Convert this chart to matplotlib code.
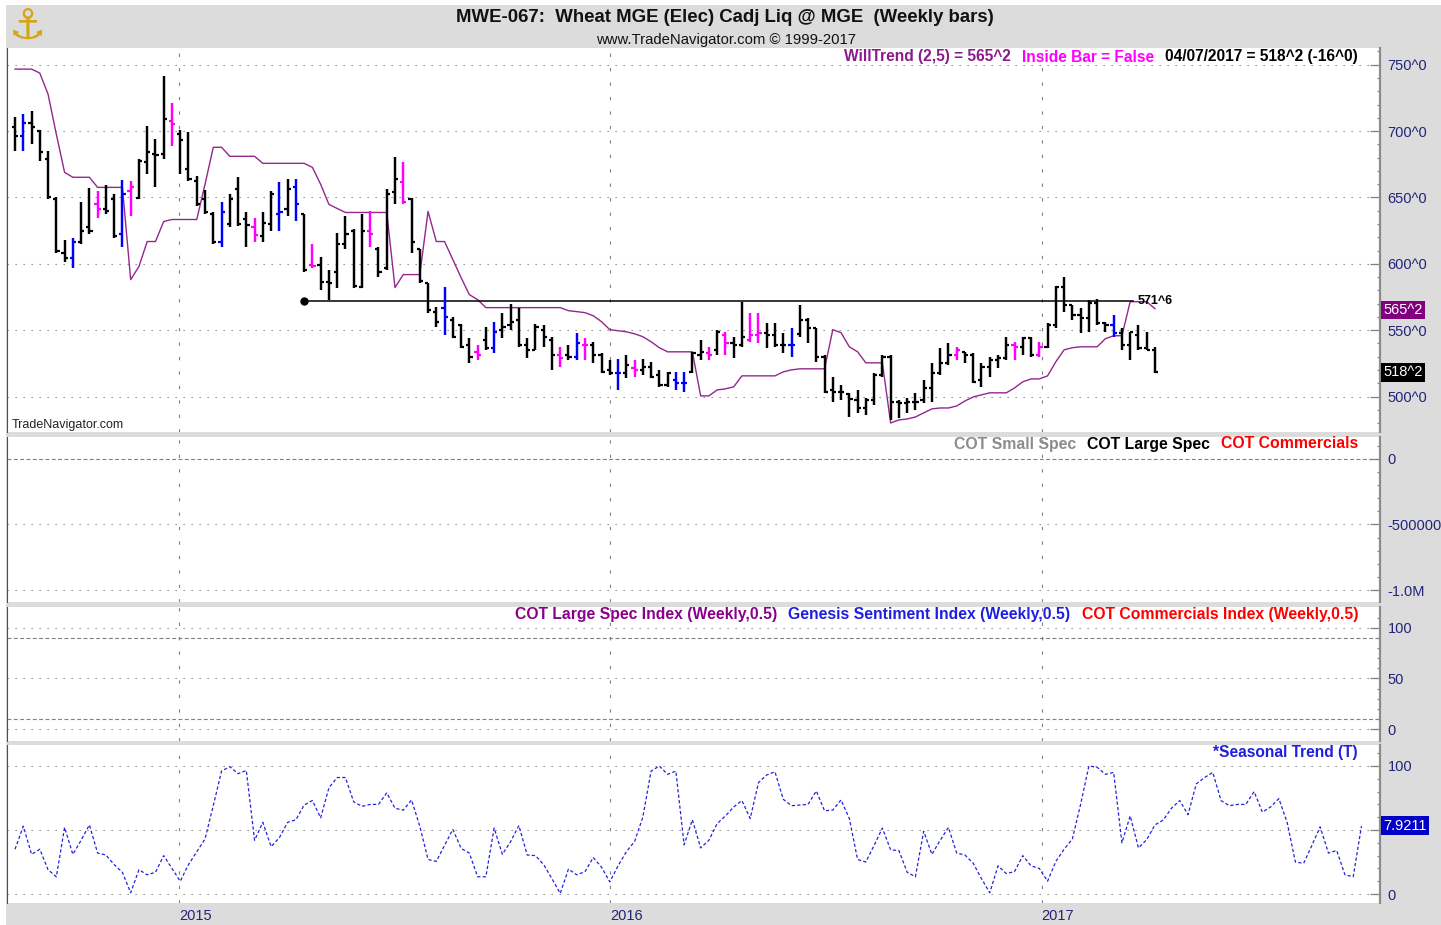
import matplotlib
matplotlib.use("Agg")
import matplotlib.pyplot as plt
import matplotlib.dates as mdates
from matplotlib.patches import Rectangle
import numpy as np
import pandas as pd

# ---- data (weekly bars, last bar 04/07/2017) ----
last_bar = "2017-04-07"

opens = [702.9, 696.1, 705.9, 699.9, 678.8, 648.5, 608.5, 604.7, 616.1, 627.4,
         644.8, 641.0, 648.5, 622.1, 654.6, 649.3, 676.5, 682.5, 682.5, 707.5,
         697.6, 671.2, 662.1, 648.5, 637.2, 616.1, 629.7, 656.1, 633.4, 627.4,
         620.6, 629.7, 637.2, 641.0, 657.6, 637.2, 599.4, 599.4, 586.6, 594.2,
         614.6, 624.4, 582.8, 624.4, 610.8, 597.2, 653.8, 661.4, 648.5, 610.8,
         585.9, 564.0, 567.0, 557.9, 554.1, 539.0, 533.7, 542.8, 536.8, 550.4,
         554.1, 557.9, 539.0, 535.2, 550.4, 542.8, 531.5, 531.5, 530.0, 539.0,
         539.0, 531.5, 520.1, 517.9, 517.9, 521.6, 520.1, 522.4, 516.4, 508.8,
         512.6, 510.3, 518.6, 531.5, 533.0, 535.2, 546.6, 540.5, 539.0, 542.8,
         546.6, 548.1, 546.6, 539.0, 539.0, 547.3, 557.9, 551.9, 530.0, 505.0,
         503.5, 502.0, 497.5, 491.4, 497.5, 516.4, 530.0, 496.0, 495.2, 496.0,
         497.5, 506.5, 517.9, 525.4, 531.5, 533.7, 531.5, 512.6, 522.4, 527.7,
         529.2, 539.0, 537.5, 544.3, 531.5, 537.5, 554.1, 582.8, 569.2, 561.7,
         559.4, 570.7, 555.6, 554.1, 548.1, 539.0, 546.6, 536.8, 535.2]

highs = [710.5, 712.7, 715.0, 700.7, 684.8, 650.1, 617.6, 619.8, 646.3, 656.9,
         654.6, 659.1, 652.3, 662.9, 662.1, 678.8, 703.7, 693.9, 741.4, 721.0,
         700.7, 699.1, 665.9, 655.3, 638.7, 646.3, 652.3, 665.2, 638.7, 634.9,
         638.7, 654.6, 661.4, 663.6, 663.6, 637.2, 614.6, 605.5, 595.7, 623.6,
         635.7, 625.9, 637.2, 639.5, 613.0, 656.1, 680.3, 676.5, 649.3, 610.8,
         585.9, 567.7, 582.8, 560.2, 554.9, 544.3, 539.0, 552.6, 556.4, 563.2,
         570.0, 567.0, 544.3, 554.9, 554.1, 545.1, 537.5, 539.0, 548.1, 544.3,
         541.3, 533.0, 527.7, 528.4, 531.5, 527.7, 528.4, 526.2, 520.1, 518.6,
         518.6, 518.6, 533.7, 542.8, 537.5, 550.4, 548.8, 545.1, 571.5, 563.2,
         563.2, 555.6, 555.6, 548.1, 551.9, 569.2, 559.4, 551.9, 531.5, 514.9,
         508.8, 502.8, 505.0, 499.0, 517.9, 531.5, 531.5, 497.5, 499.0, 502.8,
         512.6, 525.4, 536.8, 540.5, 537.5, 533.7, 533.0, 525.4, 530.0, 531.5,
         545.1, 541.3, 545.1, 545.1, 541.3, 555.6, 583.6, 590.4, 569.2, 567.0,
         573.0, 573.8, 556.4, 561.7, 551.9, 548.8, 554.1, 548.8, 537.5]

lows = [684.8, 684.8, 690.1, 677.2, 648.5, 608.5, 601.7, 597.2, 614.6, 622.1,
        634.9, 637.2, 619.8, 613.0, 635.7, 648.5, 667.4, 657.6, 678.8, 688.6,
        667.4, 662.1, 643.3, 637.2, 614.6, 613.0, 627.4, 628.2, 612.3, 616.8,
        616.8, 624.4, 624.4, 635.7, 631.9, 594.2, 597.2, 580.6, 573.0, 582.1,
        610.8, 582.1, 582.1, 612.3, 590.4, 595.7, 644.8, 644.8, 608.5, 585.9,
        563.2, 552.6, 546.6, 544.3, 536.8, 525.4, 527.7, 535.2, 533.0, 544.3,
        550.4, 537.5, 529.2, 535.2, 537.5, 520.1, 522.4, 527.7, 527.7, 527.7,
        525.4, 517.9, 516.4, 505.0, 514.1, 514.9, 516.4, 514.1, 507.3, 507.3,
        505.0, 503.5, 517.9, 527.7, 527.7, 531.5, 531.5, 529.2, 537.5, 541.3,
        540.5, 536.8, 537.5, 533.0, 530.0, 545.1, 540.5, 526.2, 502.8, 496.0,
        497.5, 484.6, 487.7, 486.2, 493.7, 514.9, 482.4, 483.9, 487.7, 489.9,
        495.2, 496.0, 516.4, 523.9, 527.7, 525.4, 510.3, 507.3, 514.9, 521.6,
        527.7, 527.7, 531.5, 530.0, 530.0, 536.8, 551.9, 564.0, 557.9, 548.1,
        548.8, 554.1, 548.8, 545.1, 535.2, 527.7, 535.2, 535.2, 517.9]

closes = [696.1, 705.9, 702.9, 684.0, 650.1, 609.3, 604.7, 616.1, 624.4, 625.1,
          641.0, 639.5, 620.6, 652.3, 657.6, 677.2, 684.0, 681.8, 709.0, 705.2,
          693.1, 663.6, 644.8, 638.7, 616.8, 638.7, 648.5, 629.7, 628.9, 621.4,
          630.4, 652.3, 638.7, 656.1, 644.8, 595.7, 598.7, 586.6, 585.9, 614.6,
          622.1, 583.6, 624.4, 622.1, 594.2, 652.3, 663.6, 646.3, 616.1, 587.4,
          565.5, 556.4, 560.2, 545.1, 537.5, 530.0, 531.5, 536.8, 548.8, 552.6,
          556.4, 539.0, 535.2, 552.6, 545.1, 531.5, 529.2, 530.0, 540.5, 539.0,
          531.5, 518.6, 517.9, 517.9, 523.9, 520.1, 522.4, 514.9, 508.8, 517.9,
          510.3, 510.3, 533.0, 533.7, 531.5, 548.8, 540.5, 539.0, 545.1, 546.6,
          548.1, 546.6, 539.0, 539.0, 539.0, 557.9, 551.9, 530.0, 503.5, 503.5,
          503.5, 498.2, 491.4, 497.5, 516.4, 530.0, 496.0, 495.2, 496.0, 496.0,
          506.5, 517.9, 525.4, 531.5, 535.2, 531.5, 511.1, 522.4, 527.7, 529.2,
          539.0, 537.5, 544.3, 531.5, 537.5, 554.1, 582.8, 569.2, 561.7, 559.4,
          570.7, 555.6, 554.1, 548.1, 539.0, 548.8, 536.8, 535.2, 518.6]

willtrend = [746.7, 746.7, 746.7, 743.7, 727.8, 697.6, 668.9, 665.2, 665.2, 665.2,
             657.6, 657.6, 657.6, 657.6, 588.1, 598.0, 616.8, 616.8, 631.9, 633.4,
             633.4, 633.4, 633.4, 659.9, 687.8, 687.8, 681.0, 681.0, 681.0, 681.0,
             675.7, 675.7, 675.7, 675.7, 675.7, 675.7, 672.7, 659.9, 644.8, 641.7,
             638.7, 638.7, 638.7, 638.7, 638.7, 638.7, 582.1, 591.9, 591.9, 591.9,
             639.5, 616.8, 616.8, 603.2, 589.6, 576.8, 573.0, 567.0, 567.0, 567.0,
             567.0, 567.0, 567.0, 567.0, 567.0, 567.0, 567.0, 564.7, 564.0, 563.2,
             560.9, 556.4, 550.4, 549.6, 548.8, 547.3, 545.1, 541.3, 536.8, 533.7,
             533.7, 533.7, 533.7, 500.5, 500.5, 505.0, 505.8, 507.3, 515.6, 515.6,
             515.6, 515.6, 515.6, 518.6, 520.1, 520.9, 520.9, 520.9, 520.9, 550.4,
             548.1, 537.5, 533.7, 525.4, 525.4, 525.4, 480.1, 482.4, 483.1, 484.6,
             487.7, 490.7, 491.4, 491.4, 492.9, 496.7, 499.7, 501.3, 502.8, 502.8,
             502.8, 506.5, 511.1, 513.3, 513.3, 515.6, 526.2, 535.2, 536.8, 537.5,
             537.5, 537.5, 543.6, 545.8, 545.8, 571.5, 571.5, 571.5, 566.2]

blue_bars = [1, 7, 13, 25, 32, 34, 52, 58, 68, 73, 80, 81, 94, 133]
inside_bars = [10, 14, 19, 29, 36, 43, 47, 56, 66, 69, 75, 84, 86, 89, 90, 114, 121, 124]

seasonal = [35, 53, 31, 35, 19, 13.5, 52, 31, 42, 54,
            32, 30.5, 23, 17, 1, 19, 15, 17, 30, 20,
            10, 23, 33, 43, 69, 96, 99.5, 94, 96.5, 42,
            56, 37, 44, 56, 58, 69.5, 73, 59.5, 83, 91,
            91, 72, 68.5, 70, 70, 79, 67, 65.5, 73.5, 53,
            27, 25.5, 38, 50.5, 35.7, 32, 13.5, 13.5, 51.5, 31,
            41, 53.5, 30.5, 30, 23, 12, 0.5, 19.5, 15, 17.5,
            28.5, 21, 9.5, 22, 33, 41, 60, 96, 100, 93.5,
            96, 38.5, 58, 36, 42, 55, 61, 68, 73, 59,
            87, 93, 95.5, 74, 69, 69.5, 70, 80.5, 65, 65.6,
            73.5, 59, 27, 25, 38, 51.5, 34.5, 34, 17, 13.5,
            49, 31, 42, 52, 32, 30.5, 24, 12, 1, 22,
            16, 17.5, 30, 22, 20, 10, 25.5, 35, 43, 70,
            100, 99, 93.5, 95, 40, 61, 36, 42.5, 54, 57.8,
            67, 73, 62, 86, 91, 95, 73, 69, 70, 70,
            80, 64, 68, 74.5, 56, 25, 24, 38, 52.5, 32,
            34, 15, 13.5, 53]

level_price = 571.75
level_label = "571^6"
level_bars = (35, 135)

willtrend_last = 565.25
close_last = 518.25
seasonal_tag = "7.9211"

year_dates = ["2015-01-01", "2016-01-01", "2017-01-01"]
year_labels = ["2015", "2016", "2017"]
price_ticks = [500, 550, 600, 650, 700, 750]
cot_ticks = [0, -500000, -1000000]
cot_labels = ["0", "-500000", "-1.0M"]
index_ticks = [0, 50, 100]
index_bands = [10, 90]
season_ticks = [0, 50, 100]
season_labels = ["0", "", "100"]   # the 50 label sits under the value tag

# ---- figure ----
W, H = 1441, 925
plt.rcParams['font.family'] = ['Liberation Sans', 'DejaVu Sans']
fig = plt.figure(figsize=(W / 100, H / 100), dpi=100, facecolor="white")
fig.patches.append(Rectangle((6 / W, 0), 1 - 6 / W, 1 - 5 / H, transform=fig.transFigure,
                             facecolor="#dcdcdc", edgecolor="none", zorder=-10))

GRID = "#808080"
NAVY = "#23237a"
DOT = (0, (1.2, 6))
VDASH = (0, (3, 10))
HDASH = (0, (3.5, 2.2))

dates = pd.date_range(end=last_bar, periods=len(closes), freq="7D")
sdates = pd.date_range(start=dates[0], periods=len(seasonal), freq="7D")
dn = mdates.date2num(dates)
sdn = mdates.date2num(sdates)
ydn = mdates.date2num(pd.to_datetime(year_dates))
xlim = (dn[0] - 6.8, dn[-1] + 190.7)


def panel(top, bottom):
    ax = fig.add_axes([7 / W, 1 - bottom / H, 1373 / W, (bottom - top) / H])
    ax.set_facecolor("white")
    ax.set_xlim(*xlim)
    for s in ("top", "bottom"):
        ax.spines[s].set_visible(False)
    ax.spines["right"].set_color("#8c8c8c")
    ax.spines["right"].set_linewidth(1.6)
    ax.spines["left"].set_color("#505050")
    ax.spines["left"].set_linewidth(0.8)
    ax.yaxis.tick_right()
    ax.tick_params(axis="y", which="major", direction="in", length=7, width=0.9,
                   color=GRID, labelcolor=NAVY, labelsize=10.5, pad=5.5)
    ax.tick_params(axis="y", which="minor", direction="in", length=2.5, width=0.9, color=GRID)
    ax.tick_params(axis="x", which="both", bottom=False, top=False, labelbottom=False)
    for d in ydn:
        ax.axvline(d, color=GRID, lw=0.8, ls=VDASH, zorder=0.5)
    return ax


# price panel
ax = panel(48, 432)
ax.set_ylim(473.3, 762.6)
ax.set_yticks(price_ticks)
ax.set_yticklabels([f"{v}^0" for v in price_ticks])
ax.set_yticks(np.arange(480, 761, 10), minor=True)
for v in price_ticks:
    ax.axhline(v, color=GRID, lw=0.8, ls=DOT, zorder=0.5)

cols = []
for i in range(len(closes)):
    if i in blue_bars:
        cols.append("#0000ff")
    elif i in inside_bars:
        cols.append("#ff00ff")
    else:
        cols.append("black")
ax.vlines(dn, lows, highs, colors=cols, lw=1.75, zorder=3)
ax.hlines(opens, dn - 2.7, dn, colors=cols, lw=1.6, zorder=3)
ax.hlines(closes, dn, dn + 2.7, colors=cols, lw=1.6, zorder=3)
ax.plot(dn, willtrend, color="#93278f", lw=1.0, zorder=2)

x0, x1 = dn[level_bars[0]], dn[level_bars[1]] + 2
ax.plot([x0, x1], [level_price, level_price], color="black", lw=1.1, zorder=2.5)
ax.plot([x0], [level_price], "o", color="black", ms=5, zorder=2.5)
ax.text(x1 + 4, level_price, level_label, fontsize=9, fontweight="bold", va="center", ha="left")

ax.text(1.0025, willtrend_last, "565^2", transform=ax.get_yaxis_transform(), ha="left",
        va="center", color="white", fontsize=10.5, clip_on=False,
        bbox=dict(boxstyle="square,pad=0.15", fc="#800080", ec="none"))
ax.text(1.0025, close_last, "518^2", transform=ax.get_yaxis_transform(), ha="left",
        va="center", color="white", fontsize=10.5, clip_on=False,
        bbox=dict(boxstyle="square,pad=0.15", fc="black", ec="none"))

# COT panel
ax2 = panel(437, 602)
ax2.set_ylim(-1.091e6, 1.667e5)
ax2.set_yticks(cot_ticks)
ax2.set_yticklabels(cot_labels)
ax2.set_yticks(np.arange(-1000000, 100001, 100000), minor=True)
ax2.axhline(0, color=GRID, lw=0.8, ls=HDASH)
for v in cot_ticks[1:]:
    ax2.axhline(v, color=GRID, lw=0.8, ls=DOT)

# COT index panel
ax3 = panel(607, 741)
ax3.set_ylim(-11.8, 120.6)
ax3.set_yticks(index_ticks)
ax3.set_yticks(np.arange(0, 111, 10), minor=True)
for v in index_ticks:
    ax3.axhline(v, color=GRID, lw=0.8, ls=DOT)
for v in index_bands:
    ax3.axhline(v, color=GRID, lw=0.8, ls=HDASH)

# seasonal panel
ax4 = panel(745, 903)
ax4.set_ylim(-7.0, 116.4)
ax4.set_yticks(season_ticks)
ax4.set_yticklabels(season_labels)
ax4.set_yticks(np.arange(0, 111, 10), minor=True)
for v in season_ticks:
    ax4.axhline(v, color=GRID, lw=0.8, ls=DOT)
ax4.plot(sdn, seasonal, color="#2222dd", lw=0.9, ls=(0, (2.6, 1.8)), zorder=3)
ax4.text(1.0025, seasonal[-1] + 0.5, seasonal_tag, transform=ax4.get_yaxis_transform(),
         ha="left", va="center", color="white", fontsize=10.5, clip_on=False,
         bbox=dict(boxstyle="square,pad=0.15", fc="#0000c8", ec="none"))
ax4.set_xticks(ydn)
ax4.set_xticklabels(year_labels)
ax4.tick_params(axis="x", which="major", bottom=True, length=0, labelbottom=True,
                labelsize=10.5, labelcolor=NAVY, pad=4)
for lab in ax4.get_xticklabels():
    lab.set_ha("left")

# ---- text ----
fig.text(725 / W, 1 - 18 / H, "MWE-067:  Wheat MGE (Elec) Cadj Liq @ MGE  (Weekly bars)",
         ha="center", va="center", fontsize=13.4, fontweight="bold", color="#111111")
fig.text(726 / W, 1 - 40 / H, "www.TradeNavigator.com \u00a9 1999-2017",
         ha="center", va="center", fontsize=10.7, color="#111111")
fig.text(28 / W, 1 - 27 / H, "\u2693", ha="center", va="center", fontsize=30,
         color="#d4a514", family="DejaVu Sans")
fig.text(12 / W, 1 - 425 / H, "TradeNavigator.com", ha="left", va="center",
         fontsize=9, color="#222222")

renderer = fig.canvas.get_renderer()


def legend_row(items, right_px, y_px, size=11.3, gap=11):
    x = right_px
    for txt, col in reversed(items):
        t = fig.text(x / W, 1 - y_px / H, txt, color=col, fontsize=size, fontweight="bold",
                     ha="right", va="center")
        x = t.get_window_extent(renderer).x0 - gap


legend_row([("WillTrend (2,5) = 565^2", "#8b1a8b"), ("Inside Bar = False", "#ff00ff"),
            ("04/07/2017 = 518^2 (-16^0)", "black")], 1358, 57, size=11.2)
legend_row([("COT Small Spec", "#8c8c8c"), ("COT Large Spec", "black"),
            ("COT Commercials", "#ff0000")], 1358, 444, size=11.4)
legend_row([("COT Large Spec Index (Weekly,0.5)", "#8b008b"),
            ("Genesis Sentiment Index (Weekly,0.5)", "#1f1fe0"),
            ("COT Commercials Index (Weekly,0.5)", "#ff0000")], 1358, 614, size=11.35)
legend_row([("*Seasonal Trend (T)", "#1f1fe0")], 1358, 752, size=11.2)

fig.savefig("out.png", dpi=100, facecolor=fig.get_facecolor())
